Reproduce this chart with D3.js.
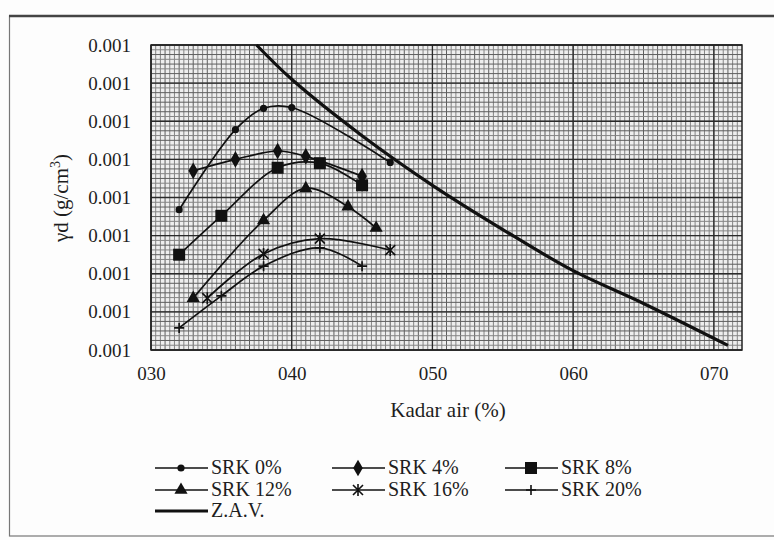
<!DOCTYPE html>
<html>
<head>
<meta charset="utf-8">
<script src="https://cdn.jsdelivr.net/npm/d3@7"></script>
<style>
  body { margin: 0; background: #fff; }
  svg text { font-family: "Liberation Serif", "Times New Roman", Tinos, "DejaVu Serif", serif; fill: #1e1e1e; }
</style>
</head>
<body>
<div id="chart"></div>
<script>
"use strict"

// moisture content (%) for each mix, dry density
let srk0W = [32, 36, 38, 40, 47];
let srk0Y = [0.001234, 0.001339, 0.001367, 0.001368, 0.001296];

let srk4W = [33, 36, 39, 41, 45];
let srk4Y = [0.001285, 0.001300, 0.001311, 0.001304, 0.001278];

let srk8W = [32, 35, 39, 42, 45];
let srk8Y = [0.001175, 0.001226, 0.001289, 0.001295, 0.001266];

let srk12W = [33, 38, 41, 44, 46];
let srk12Y = [0.001118, 0.001220, 0.001262, 0.001238, 0.001210];

let srk16W = [34, 38, 42, 47];
let srk16Y = [0.001118, 0.001176, 0.001196, 0.001181];

let srk20W = [32, 35, 38, 42, 45];
let srk20Y = [0.001079, 0.001121, 0.001160, 0.001184, 0.001160];

// zero air voids line
let zavW = [37.5, 40, 45, 50, 55, 60, 65, 71];
let zavY = [0.001450, 0.001405, 0.001331, 0.001266, 0.001208, 0.001154, 0.001111, 0.001056];

let seriesNames = ["SRK 0%", "SRK 4%", "SRK 8%", "SRK 12%", "SRK 16%", "SRK 20%", "Z.A.V."];
let markerTypes = ["dot", "diamond", "square", "triangle", "star", "plus", "none"];

let xTicks = [30, 40, 50, 60, 70];
let yTicks = [0.00105, 0.00110, 0.00115, 0.00120, 0.00125, 0.00130, 0.00135, 0.00140, 0.00145];

let allW = [srk0W, srk4W, srk8W, srk12W, srk16W, srk20W, zavW];
let allY = [srk0Y, srk4Y, srk8Y, srk12Y, srk16Y, srk20Y, zavY];

let series = seriesNames.map((name, i) => ({
    name: name,
    marker: markerTypes[i],
    points: allW[i].map((w, j) => ({ w: w, y: allY[i][j] }))
}));

let serifFont = '"Liberation Serif", "Times New Roman", Tinos, "DejaVu Serif", serif';

/* drawing canvas */
let drawing = d3.select("#chart")
    .append("svg")
    .attr("width", 774)
    .attr("height", 540);

drawing.append("rect")
    .attr("width", 774)
    .attr("height", 540)
    .attr("fill", "#fdfdfd");

// outer frame of the scanned chart
drawing.append("rect")
    .attr("x", 9.5)
    .attr("y", 16)
    .attr("width", 790)
    .attr("height", 520)
    .attr("fill", "none")
    .attr("stroke", "#777")
    .attr("stroke-width", 1.2);
drawing.append("line")
    .attr("x1", 9).attr("x2", 774)
    .attr("y1", 16).attr("y2", 16)
    .attr("stroke", "#444")
    .attr("stroke-width", 2.4);

let plotLeft = 151, plotRight = 742, plotTop = 45, plotBottom = 350;

let x = d3.scaleLinear().domain([30, 72]).range([plotLeft, plotRight]);
let y = d3.scaleLinear().domain([0.00105, 0.00145]).range([plotBottom, plotTop]);

// graph paper background
let grid = drawing.append("g");
grid.append("rect")
    .attr("x", plotLeft).attr("y", plotTop)
    .attr("width", plotRight - plotLeft).attr("height", plotBottom - plotTop)
    .attr("fill", "#eeeeee");

let fineX = d3.range(0, 126).map(i => 30 + i / 3);
let fineY = d3.range(0, 65).map(i => 0.00105 + i * 0.00005 / 8);

grid.selectAll(".fx").data(fineX).join("line")
    .attr("x1", d => x(d)).attr("x2", d => x(d))
    .attr("y1", plotTop).attr("y2", plotBottom)
    .attr("stroke", (d, i) => i % 3 == 0 ? "#5e5e5e" : "#858585")
    .attr("stroke-width", 1);

grid.selectAll(".fy").data(fineY).join("line")
    .attr("x1", plotLeft).attr("x2", plotRight)
    .attr("y1", d => y(d)).attr("y2", d => y(d))
    .attr("stroke", (d, i) => i % 2 == 0 ? "#5e5e5e" : "#858585")
    .attr("stroke-width", 1);

// major gridlines
grid.selectAll(".my").data(yTicks).join("line")
    .attr("x1", plotLeft).attr("x2", plotRight)
    .attr("y1", d => y(d)).attr("y2", d => y(d))
    .attr("stroke", "#2a2a2a")
    .attr("stroke-width", 1.3);

grid.selectAll(".mx").data(xTicks).join("line")
    .attr("x1", d => x(d)).attr("x2", d => x(d))
    .attr("y1", plotTop).attr("y2", plotBottom)
    .attr("stroke", "#2a2a2a")
    .attr("stroke-width", 1.3);

grid.append("rect")
    .attr("x", plotLeft).attr("y", plotTop)
    .attr("width", plotRight - plotLeft).attr("height", plotBottom - plotTop)
    .attr("fill", "none")
    .attr("stroke", "#222")
    .attr("stroke-width", 1.5);

// axes
let xAxis = drawing.append("g")
    .attr("transform", "translate(0," + plotBottom + ")")
    .call(d3.axisBottom(x).tickValues(xTicks).tickFormat(d3.format("03d")).tickSize(0).tickPadding(17));
let yAxis = drawing.append("g")
    .attr("transform", "translate(" + plotLeft + ",0)")
    .call(d3.axisLeft(y).tickValues(yTicks).tickFormat(d3.format(".3f")).tickSize(0).tickPadding(20));

[xAxis, yAxis].forEach(a => {
    a.attr("font-family", serifFont);
    a.select(".domain").remove();
    a.selectAll("text")
        .style("font-family", serifFont)
        .style("font-size", "19px")
        .attr("fill", "#1e1e1e");
});

drawing.append("text")
    .attr("x", 448)
    .attr("y", 417)
    .attr("text-anchor", "middle")
    .style("font-family", serifFont)
    .style("font-size", "21px")
    .text("Kadar air (%)");

let yTitle = drawing.append("text")
    .attr("transform", "translate(68,198) rotate(-90)")
    .attr("text-anchor", "middle")
    .style("font-family", serifFont)
    .style("font-size", "21px");
yTitle.append("tspan").text("γd (g/cm");
yTitle.append("tspan").attr("dy", -8).style("font-size", "14px").text("3");
yTitle.append("tspan").attr("dy", 8).text(")");

// markers
function drawMarker(g, type, cx, cy) {
    if (type == "dot") {
        g.append("circle").attr("cx", cx).attr("cy", cy).attr("r", 3.6).attr("fill", "#111");
    } else if (type == "diamond") {
        g.append("path").attr("d", d3.symbol(d3.symbolDiamond, 80)())
            .attr("transform", "translate(" + cx + "," + cy + ")").attr("fill", "#111");
    } else if (type == "square") {
        g.append("rect").attr("x", cx - 6).attr("y", cy - 6).attr("width", 12).attr("height", 12).attr("fill", "#111");
    } else if (type == "triangle") {
        g.append("path").attr("d", d3.symbol(d3.symbolTriangle, 75)())
            .attr("transform", "translate(" + cx + "," + cy + ")").attr("fill", "#111");
    } else if (type == "star") {
        g.append("path")
            .attr("d", "M-5,-5L5,5M-5,5L5,-5M0,-6L0,6")
            .attr("transform", "translate(" + cx + "," + cy + ")")
            .attr("stroke", "#111").attr("stroke-width", 1.6).attr("fill", "none");
    } else if (type == "plus") {
        g.append("path")
            .attr("d", "M-5,0L5,0M0,-5L0,5")
            .attr("transform", "translate(" + cx + "," + cy + ")")
            .attr("stroke", "#111").attr("stroke-width", 1.6).attr("fill", "none");
    }
}

let line = d3.line()
    .x(d => x(d.w))
    .y(d => y(d.y))
    .curve(d3.curveCatmullRom.alpha(0.5));

let plot = drawing.append("g");
series.forEach(s => {
    let isZav = s.marker == "none";
    plot.append("path")
        .datum(s.points)
        .attr("d", line)
        .attr("fill", "none")
        .attr("stroke", "#111")
        .attr("stroke-width", isZav ? 3.2 : 1.7);
    s.points.forEach(p => drawMarker(plot, s.marker, x(p.w), y(p.y)));
});

// legend
let legendCols = [155, 332, 505];
let legendRows = [468, 490, 511];
let legend = drawing.append("g");
series.forEach((s, i) => {
    let lx = legendCols[i % 3];
    let ly = legendRows[Math.floor(i / 3)];
    legend.append("line")
        .attr("x1", lx).attr("x2", lx + 53)
        .attr("y1", ly).attr("y2", ly)
        .attr("stroke", "#111")
        .attr("stroke-width", s.marker == "none" ? 3.2 : 1.7);
    drawMarker(legend, s.marker, lx + 26, ly);
    legend.append("text")
        .attr("x", lx + 56)
        .attr("y", ly + 6)
        .style("font-family", serifFont)
        .style("font-size", "20px")
        .text(s.name);
});
</script>
</body>
</html>
